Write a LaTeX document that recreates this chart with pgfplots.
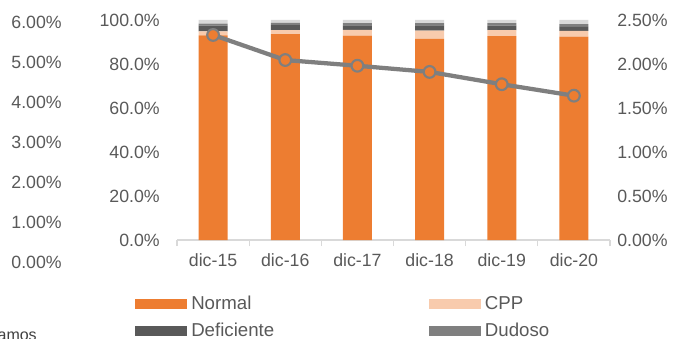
\documentclass[border=0pt]{standalone}
\usepackage{fontspec}
\setmainfont{Liberation Sans}
\usepackage{pgfplots}
\usepackage{pgfplotstable}
\pgfplotsset{compat=1.18}
\definecolor{cNormal}{HTML}{ED7D31}
\definecolor{cCPP}{HTML}{F8CBAD}
\definecolor{cDef}{HTML}{595959}
\definecolor{cDud}{HTML}{7F7F7F}
\definecolor{cPer}{HTML}{D9D9D9}
\definecolor{cLine}{HTML}{7F7F7F}
\definecolor{txt}{HTML}{595959}
\definecolor{axl}{HTML}{D9D9D9}

\pgfplotstableread{
x normal cpp def dud per rate
0 93.0 1.8 2.6 1.0 1.6 2.33
1 93.6 1.8 2.3 1.0 1.3 2.045
2 92.9 2.6 2.0 1.1 1.4 1.98
3 91.4 3.8 2.3 1.1 1.4 1.91
4 92.7 2.7 2.0 1.2 1.4 1.77
5 92.4 2.7 1.8 1.2 1.9 1.64
}\data

\pgfplotsset{
  every axis/.append style={font=\fontsize{13.3}{16}\selectfont, text=txt},
  tick label style={font=\fontsize{13.3}{16}\selectfont, text=txt},
  leg/.style={legend image code/.code={\fill[##1] (0pt,-3.75pt) rectangle (39pt,3.75pt);}},
}

\begin{document}
\begin{tikzpicture}
\path[use as bounding box, clip] (0pt,0pt) rectangle (511.5pt,254.25pt);

% outer left scale (labels only)
\begin{axis}[
  at={(46.5pt,57.75pt)}, anchor=south west,
  scale only axis, width=10pt, height=180pt,
  axis lines=left, axis line style={draw=none},
  xmin=0, xmax=1, xtick=\empty,
  ymin=0, ymax=6, ytick={0,1,2,3,4,5,6},
  yticklabels={0.00\%,1.00\%,2.00\%,3.00\%,4.00\%,5.00\%,6.00\%},
  major tick length=0pt,
  yticklabel style={anchor=east, inner sep=0pt},
]
\end{axis}

% main stacked bar axis
\begin{axis}[
  at={(132.75pt,74.25pt)}, anchor=south west,
  scale only axis, width=324.75pt, height=165pt,
  ybar stacked, bar width=21.75pt,
  axis x line*=bottom, axis y line*=left,
  y axis line style={draw=none},
  x axis line style={draw=axl, line width=0.8pt},
  xmin=-0.5, xmax=5.5,
  xtick={0,1,2,3,4,5},
  xticklabels={dic-15,dic-16,dic-17,dic-18,dic-19,dic-20},
  minor xtick={-0.5,0.5,1.5,2.5,3.5,4.5,5.5},
  major tick length=0pt, minor tick length=4.5pt,
  tick align=outside,
  every minor tick/.append style={draw=axl, line width=0.8pt},
  ymin=0, ymax=100, ytick={0,20,40,60,80,100},
  yticklabels={0.0\%,20.0\%,40.0\%,60.0\%,80.0\%,100.0\%},
  yticklabel style={anchor=east, inner sep=0pt, xshift=-12.75pt},
  xticklabel style={anchor=north, inner sep=0pt, yshift=-9.75pt},
  legend columns=2,
  legend style={draw=none, fill=none, at={(0,0)}, anchor=north west,
    xshift=-31.5pt, yshift=-42pt, inner sep=0pt, row sep=8.5pt,
    nodes={inner sep=0pt, text=txt, font=\fontsize{14}{16}\selectfont},
    /tikz/every odd column/.style={column sep=3pt},
    /tikz/every even column/.style={column sep=116pt}},
  legend cell align=left,
]
\addplot[leg, fill=cNormal, draw=none] table[x=x, y=normal]{\data};
\addplot[leg, fill=cCPP, draw=none] table[x=x, y=cpp]{\data};
\addplot[leg, fill=cDef, draw=none] table[x=x, y=def]{\data};
\addplot[leg, fill=cDud, draw=none] table[x=x, y=dud]{\data};
\addplot[leg, fill=cPer, draw=none] table[x=x, y=per]{\data};
\legend{Normal, CPP, Deficiente, Dudoso}
\end{axis}

% line axis (right)
\begin{axis}[
  at={(132.75pt,74.25pt)}, anchor=south west,
  scale only axis, width=324.75pt, height=165pt,
  axis x line=none, axis y line*=right,
  y axis line style={draw=none},
  xmin=-0.5, xmax=5.5,
  ymin=0, ymax=2.5, ytick={0,0.5,1,1.5,2,2.5},
  yticklabels={0.00\%,0.50\%,1.00\%,1.50\%,2.00\%,2.50\%},
  major tick length=0pt,
  yticklabel style={anchor=west, inner sep=0pt, xshift=5.25pt},
]
\addplot[color=cLine, line width=3.2pt, mark=*, mark size=4.4pt,
  mark options={fill=cNormal, draw=cLine, line width=1.6pt}]
  table[x=x, y=rate]{\data};
\end{axis}

\node[anchor=base east, inner sep=0pt, text=black!75, font=\fontsize{12}{14}\selectfont] at (27.75pt,-1.5pt) {Préstamos};
\end{tikzpicture}
\end{document}
